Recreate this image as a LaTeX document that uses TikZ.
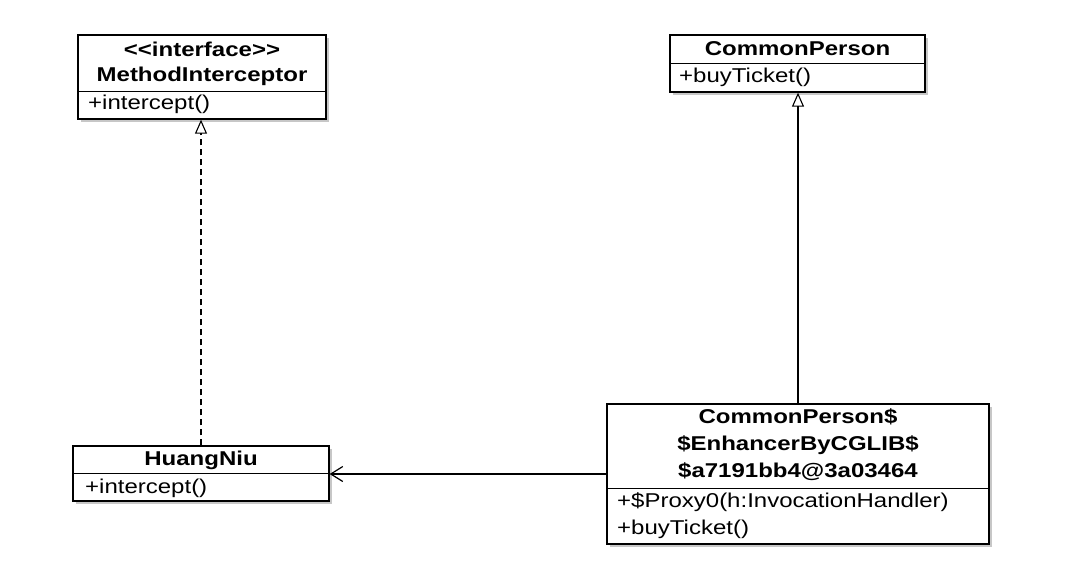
\documentclass[tikz,border=0pt]{standalone}
\usepackage{fontspec}
\newfontfamily\umlfont[FakeStretch=1.2]{Liberation Sans}
\usetikzlibrary{shadows,arrows.meta}
\begin{document}
\begin{tikzpicture}[x=1pt,y=-1pt,
  classbox/.style={draw=black, line width=1.3pt, fill=white, inner sep=0pt,
    drop shadow={shadow xshift=2.5pt, shadow yshift=-3pt, fill=black!40, opacity=0.55}},
  title/.style={inner sep=0pt, font=\umlfont\fontsize{20}{27}\selectfont\bfseries},
  member/.style={inner sep=0pt, anchor=west, font=\umlfont\fontsize{20}{27}\selectfont},
  divider/.style={line width=1pt},
  conn/.style={line width=1.2pt},
  realize/.style={conn, dashed, dash pattern=on 6pt off 4pt, -{Triangle[open, length=14pt, width=12pt, line width=1.1pt]}},
  generalize/.style={conn, -{Triangle[open, length=14pt, width=12pt, line width=1.1pt]}},
  assoc/.style={conn, -{Straight Barb[length=12pt, width=15pt, line width=1.2pt]}}
]
\useasboundingbox (0,0) rectangle (1072,574);
\fill[white] (0,0) rectangle (1072,574);

% MethodInterceptor
\node[classbox, minimum width=248pt, minimum height=84pt] (mi) at (202,77) {};
\draw[divider] (78,91) -- (326,91);
\node[title] (mi-t1) at (202,49) {<<interface>>};
\node[title] (mi-t2) at (202,76) {MethodInterceptor};
\node[member] (mi-m1) at (88,104) {+intercept()};

% CommonPerson
\node[classbox, minimum width=255pt, minimum height=57pt] (cp) at (797.5,63.5) {};
\draw[divider] (670,63) -- (925,63);
\node[title] (cp-t) at (797.5,49) {CommonPerson};
\node[member] (cp-m1) at (679,77) {+buyTicket()};

% HuangNiu
\node[classbox, minimum width=256pt, minimum height=55pt] (hn) at (201,473.5) {};
\draw[divider] (73,473) -- (329,473);
\node[title] (hn-t) at (201,460) {HuangNiu};
\node[member] (hn-m1) at (85,488) {+intercept()};

% Proxy class
\node[classbox, minimum width=382pt, minimum height=140pt] (px) at (798,474) {};
\draw[divider] (607,488) -- (989,488);
\node[title] (px-t1) at (798,417) {CommonPerson\$};
\node[title] (px-t2) at (798,445) {\$EnhancerByCGLIB\$};
\node[title] (px-t3) at (798,472) {\$a7191bb4@3a03464};
\node[member] (px-m1) at (617,502) {+\$Proxy0(h:InvocationHandler)};
\node[member] (px-m2) at (617,529) {+buyTicket()};

% connectors
\draw[realize] (hn.north) -- (hn.north |- mi.south);
\draw[generalize] (px.north) -- (px.north |- cp.south);
\draw[assoc] (px.west) -- (px.west -| hn.east);
\end{tikzpicture}
\end{document}
